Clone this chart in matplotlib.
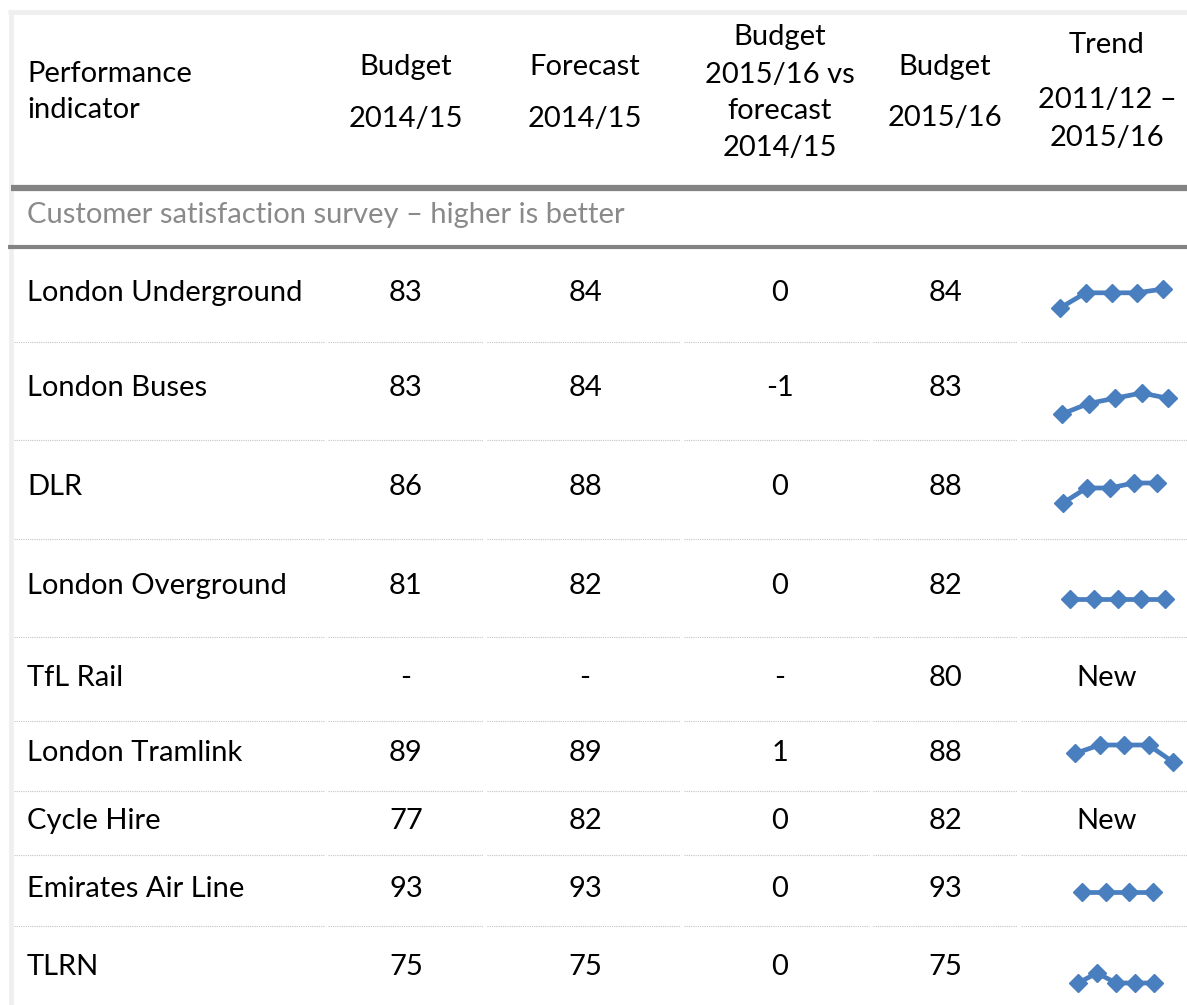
import matplotlib.pyplot as plt

plt.rcParams['font.family'] = ['Lato', 'DejaVu Sans']

# table data
indicators = ['London Underground', 'London Buses', 'DLR', 'London Overground',
              'TfL Rail', 'London Tramlink', 'Cycle Hire', 'Emirates Air Line', 'TLRN']
budget_1415 = [83, 83, 86, 81, None, 89, 77, 93, 75]
forecast_1415 = [84, 84, 88, 82, None, 89, 82, 93, 75]
variance = [0, -1, 0, 0, None, 1, 0, 0, 0]
budget_1516 = [84, 83, 88, 82, 80, 88, 82, 93, 75]

# sparkline values 2011/12 - 2015/16 (None = "New")
trend = [
    [79, 83, 83, 83, 84],
    [80, 82, 83, 84, 83],
    [84, 87, 87, 88, 88],
    [82, 82, 82, 82, 82],
    None,
    [88, 89, 89, 89, 87],
    None,
    [93, 93, 93, 93],
    [75, 76, 75, 75, 75],
]

W, H = 1187, 1005
fig = plt.figure(figsize=(W / 100, H / 100), dpi=100)
ax = fig.add_axes([0, 0, 1, 1])
ax.set_xlim(0, W)
ax.set_ylim(H, 0)
ax.axis('off')

fs = 21
col_x = [406, 585, 780, 945]
trend_x = 1107
row_y = [293, 388, 487, 586, 678, 753, 821, 889, 967]
sep_y = [342, 440, 539, 637, 721, 791, 855, 926]
gaps = [(14, 324), (328, 483), (487, 680), (684, 869), (873, 1017), (1021, W)]

# frame bits
ax.plot([8, W], [12, 12], color='#efefef', lw=3.5, solid_capstyle='butt')
ax.plot([10.5, 10.5], [12, H], color='#efefef', lw=3.5, solid_capstyle='butt')
ax.plot([11, W], [188, 188], color='#838383', lw=4.5, solid_capstyle='butt')
ax.plot([8, W], [246.5, 246.5], color='#838383', lw=3, solid_capstyle='butt')

# header
ax.text(27, 74, 'Performance', fontsize=fs, va='center', ha='left')
ax.text(27, 110, 'indicator', fontsize=fs, va='center', ha='left')
header = [
    (col_x[0], [('Budget', 67), ('2014/15', 119)]),
    (col_x[1], [('Forecast', 67), ('2014/15', 119)]),
    (col_x[2], [('Budget', 37), ('2015/16 vs', 75), ('forecast', 111), ('2014/15', 148)]),
    (col_x[3], [('Budget', 67), ('2015/16', 118)]),
    (trend_x, [('Trend', 45), ('2011/12 \u2013', 100), ('2015/16', 138)]),
]
for x, lines in header:
    for s, y in lines:
        ax.text(x, y, s, fontsize=fs, ha='center', va='center')

ax.text(27, 215, 'Customer satisfaction survey \u2013 higher is better',
        fontsize=fs, color='#8a8a8a', ha='left', va='center')

# dotted row separators
for y in sep_y:
    for x0, x1 in gaps:
        ax.plot([x0, x1], [y, y], color='#c4c4c4', lw=0.8, ls=(0, (1, 1)))


def fmt(v):
    return '-' if v is None else str(v)


for i, name in enumerate(indicators):
    y = row_y[i]
    ax.text(27, y, name, fontsize=fs, ha='left', va='center')
    cols = [budget_1415[i], forecast_1415[i], variance[i], budget_1516[i]]
    for x, v in zip(col_x, cols):
        ax.text(x, y, fmt(v), fontsize=fs, ha='center', va='center')
    if trend[i] is None:
        ax.text(trend_x, y, 'New', fontsize=fs, ha='center', va='center')

# sparkline boxes in pixels: first x, last x, top y (max), bottom y (min)
spark_box = [
    (1060, 1163, 289, 308),
    (1062, 1168, 393, 414),
    (1063, 1157, 483, 503),
    (1070, 1165, 589, 609),
    None,
    (1075, 1173, 745, 762),
    None,
    (1082, 1153, 882, 902),
    (1078, 1154, 973, 983),
]

for vals, box in zip(trend, spark_box):
    if vals is None:
        continue
    x0, x1, yt, yb = box
    sa = fig.add_axes([x0 / W, 1 - yb / H, (x1 - x0) / W, (yb - yt) / H])
    lo, hi = min(vals), max(vals)
    if lo == hi:
        lo, hi = lo - 1, hi + 1
    sa.set_xlim(0, len(vals) - 1)
    sa.set_ylim(lo, hi)
    sa.plot(range(len(vals)), vals, color='#4a7fbf', lw=3.4, marker='D',
            markersize=9.5, clip_on=False)
    sa.axis('off')

fig.savefig('out.png', dpi=100)
